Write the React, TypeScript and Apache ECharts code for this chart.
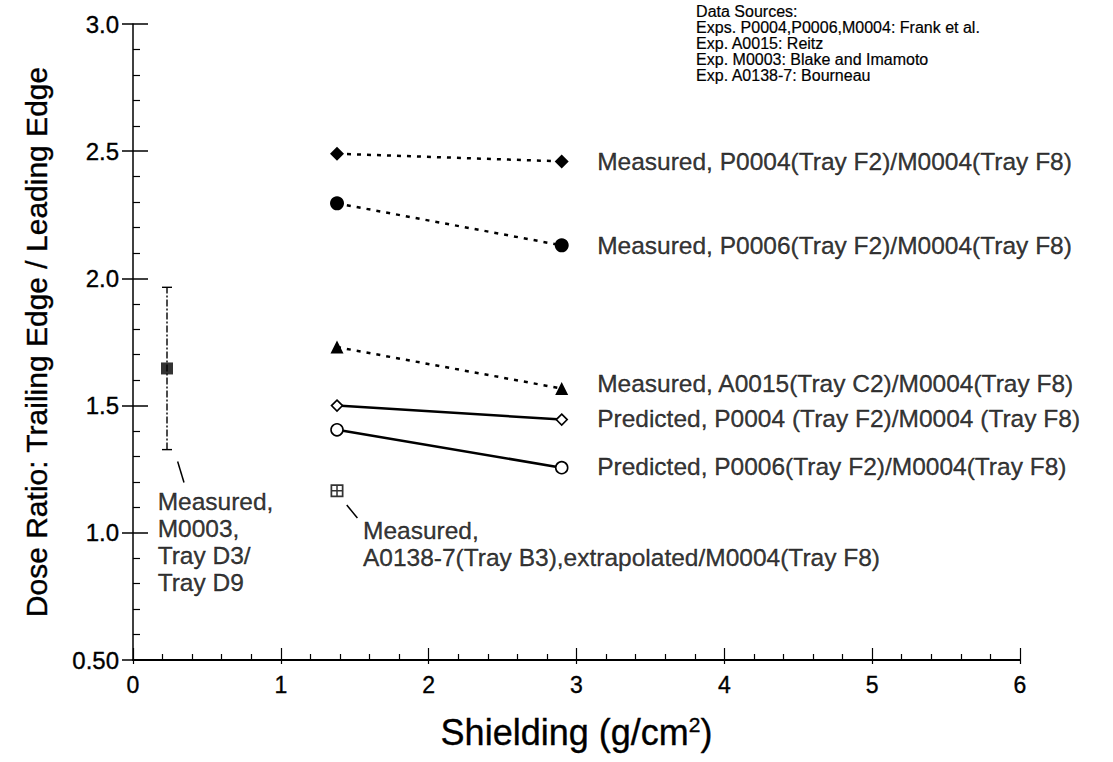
import React, { useEffect, useRef } from "react";
import * as echarts from "echarts";

const FONT = "'Liberation Sans', Arial, Helvetica, sans-serif";

// x: shielding (g/cm2), y: dose ratio
const shieldPts = [1.38, 2.9];
const measP0004 = [2.49, 2.46];
const measP0006 = [2.295, 2.13];
const measA0015 = [1.73, 1.567];
const predP0004 = [1.5, 1.445];
const predP0006 = [1.405, 1.256];
const a0138Point = [1.38, 1.165];
const m0003Point = [0.23, 1.646];
const m0003Err = [1.327, 1.965];

const yTicks = [0.5, 1.0, 1.5, 2.0, 2.5, 3.0];

const labelItems = [
  { name: "Measured, P0004(Tray F2)/M0004(Tray F8)", value: [3.14, 2.46] },
  { name: "Measured, P0006(Tray F2)/M0004(Tray F8)", value: [3.14, 2.13] },
  { name: "Measured, A0015(Tray C2)/M0004(Tray F8)", value: [3.14, 1.588] },
  { name: "Predicted, P0004 (Tray F2)/M0004 (Tray F8)", value: [3.14, 1.448] },
  { name: "Predicted, P0006(Tray F2)/M0004(Tray F8)", value: [3.14, 1.262] },
  { name: "Measured,\nA0138-7(Tray B3),extrapolated/M0004(Tray F8)", value: [1.556, 0.955] },
  { name: "Measured,\nM0003,\nTray D3/\nTray D9", value: [0.167, 0.962] },
];

const leaderM0003 = [[0.302, 1.28], [0.345, 1.198]];
const leaderA0138 = [[1.446, 1.109], [1.518, 1.058]];

const sourceLines = [
  "Data Sources:",
  "Exps. P0004,P0006,M0004: Frank et al.",
  "Exp. A0015: Reitz",
  "Exp. M0003: Blake and Imamoto",
  "Exp. A0138-7: Bourneau",
];

const plusSquare =
  "path://M0,0H12V12H0Z M1.6,1.6V5.3H5.3V1.6Z M6.7,1.6V5.3H10.4V1.6Z M1.6,6.7V10.4H5.3V6.7Z M6.7,6.7V10.4H10.4V6.7Z";

function pairs(ys: number[]) {
  return shieldPts.map((x, i) => [x, ys[i]]);
}

export default function App() {
  const ref = useRef<HTMLDivElement>(null);
  useEffect(() => {
    if (!ref.current) return;
    const chart = echarts.init(ref.current, null, { renderer: "svg" });
    const dashed = { color: "#000", width: 2.5, type: [4, 6] as any };
    const solid = { color: "#000", width: 2.5, type: "solid" as any };
    const thick = { textBorderColor: "#000", textBorderWidth: 0.35 };
    chart.setOption({
      animation: false,
      backgroundColor: "#fff",
      grid: { left: 133, right: 93, top: 24, bottom: 102 },
      xAxis: [
        {
          type: "value",
          min: 0,
          max: 6,
          interval: 1,
          name: "Shielding (g/cm{sup|2})",
          nameLocation: "middle",
          nameGap: 54,
          nameTextStyle: {
            fontFamily: FONT,
            fontSize: 36,
            color: "#000",
            ...thick,
            rich: {
              sup: {
                fontSize: 21,
                fontFamily: FONT,
                color: "#000",
                verticalAlign: "top",
                padding: [0, 0, 15, 0],
                ...thick,
              },
            },
          },
          axisLine: { show: true, lineStyle: { color: "#000", width: 2 } },
          axisTick: { show: true, inside: true, length: 12, lineStyle: { color: "#000", width: 1.2 } },
          minorTick: { show: true, splitNumber: 5, length: 6, lineStyle: { color: "#000", width: 1.2 } },
          axisLabel: { fontFamily: FONT, fontSize: 23, color: "#000", margin: 13, ...thick },
          splitLine: { show: false },
        },
        {
          type: "value",
          min: 0,
          max: 6,
          interval: 1,
          position: "bottom",
          axisLine: { show: false },
          axisTick: { show: true, inside: false, length: 4, lineStyle: { color: "#000", width: 1.2 } },
          axisLabel: { show: false },
          splitLine: { show: false },
        },
      ],
      yAxis: [
        {
          type: "value",
          min: 0.5,
          max: 3.0,
          interval: 0.5,
          name: "Dose Ratio: Trailing Edge / Leading Edge",
          nameLocation: "middle",
          nameGap: 82,
          nameTextStyle: { fontFamily: FONT, fontSize: 30, color: "#000", ...thick },
          axisLine: { show: true, lineStyle: { color: "#000", width: 1.5 } },
          axisTick: { show: true, inside: false, length: 11, lineStyle: { color: "#000", width: 1.5 } },
          axisLabel: {
            fontFamily: FONT,
            fontSize: 24,
            color: "#000",
            margin: 14,
            ...thick,
            formatter: (v: number) => {
              const t = yTicks.find((k) => Math.abs(k - v) < 1e-6);
              if (t === undefined) return "";
              return t === 0.5 ? "0.50" : t.toFixed(1);
            },
          },
          splitLine: { show: false },
        },
        {
          type: "value",
          min: 0.5,
          max: 3.0,
          interval: 0.5,
          position: "left",
          axisLine: { show: false },
          axisTick: { show: true, inside: true, length: 15, lineStyle: { color: "#000", width: 1.5 } },
          minorTick: { show: true, splitNumber: 5, length: 7, lineStyle: { color: "#000", width: 1.2 } },
          axisLabel: { show: false },
          splitLine: { show: false },
        },
      ],
      graphic: [
        {
          type: "text",
          left: 696,
          top: 3,
          style: {
            text: sourceLines.join("\n"),
            fontFamily: FONT,
            fontSize: 16,
            lineHeight: 16,
            fill: "#000",
            stroke: "#000",
            lineWidth: 0.2,
          },
        },
      ],
      series: [
        {
          type: "line",
          data: pairs(measP0004),
          symbol: "diamond",
          symbolSize: 14,
          itemStyle: { color: "#000" },
          lineStyle: dashed,
        },
        {
          type: "line",
          data: pairs(measP0006),
          symbol: "circle",
          symbolSize: 14,
          itemStyle: { color: "#000" },
          lineStyle: dashed,
        },
        {
          type: "line",
          data: pairs(measA0015),
          symbol: "triangle",
          symbolSize: 13,
          itemStyle: { color: "#000" },
          lineStyle: dashed,
        },
        {
          type: "line",
          data: pairs(predP0004),
          symbol: "diamond",
          symbolSize: 11,
          itemStyle: { color: "#fff", borderColor: "#000", borderWidth: 1.6 },
          lineStyle: solid,
        },
        {
          type: "line",
          data: pairs(predP0006),
          symbol: "circle",
          symbolSize: 12,
          itemStyle: { color: "#fff", borderColor: "#000", borderWidth: 1.6 },
          lineStyle: solid,
        },
        {
          type: "scatter",
          data: [a0138Point],
          symbol: plusSquare,
          symbolSize: 13,
          itemStyle: { color: "#000" },
        },
        {
          type: "custom",
          data: [[m0003Point[0], m0003Err[0], m0003Err[1]]],
          renderItem: (params: any, api: any) => {
            const x = api.value(0);
            const p1 = api.coord([x, api.value(1)]);
            const p2 = api.coord([x, api.value(2)]);
            const st = { stroke: "#000", lineWidth: 1.4 };
            return {
              type: "group",
              children: [
                { type: "line", shape: { x1: p1[0], y1: p1[1], x2: p2[0], y2: p2[1] }, style: { ...st, lineDash: [7, 2, 2, 2] } },
                { type: "line", shape: { x1: p1[0] - 5, y1: p1[1], x2: p1[0] + 5, y2: p1[1] }, style: st },
                { type: "line", shape: { x1: p2[0] - 5, y1: p2[1], x2: p2[0] + 5, y2: p2[1] }, style: st },
              ],
            };
          },
          z: 1,
        },
        {
          type: "scatter",
          data: [m0003Point],
          symbol: "rect",
          symbolSize: 12,
          itemStyle: { color: "#000" },
          z: 3,
        },
        {
          type: "line",
          data: leaderM0003,
          symbol: "none",
          lineStyle: { color: "#000", width: 1.5 },
        },
        {
          type: "line",
          data: leaderA0138,
          symbol: "none",
          lineStyle: { color: "#000", width: 1.5 },
        },
        {
          type: "scatter",
          data: labelItems,
          symbolSize: 0.1,
          itemStyle: { color: "transparent" },
          label: {
            show: true,
            position: "insideLeft",
            distance: 0,
            formatter: "{b}",
            fontFamily: FONT,
            fontSize: 24.5,
            lineHeight: 27,
            color: "#000",
            ...thick,
          },
        },
      ],
    });
    return () => chart.dispose();
  }, []);
  return (
    <div
      ref={ref}
      style={{ position: "absolute", left: 0, top: 0, width: 1113, height: 762, background: "#fff" }}
    />
  );
}
